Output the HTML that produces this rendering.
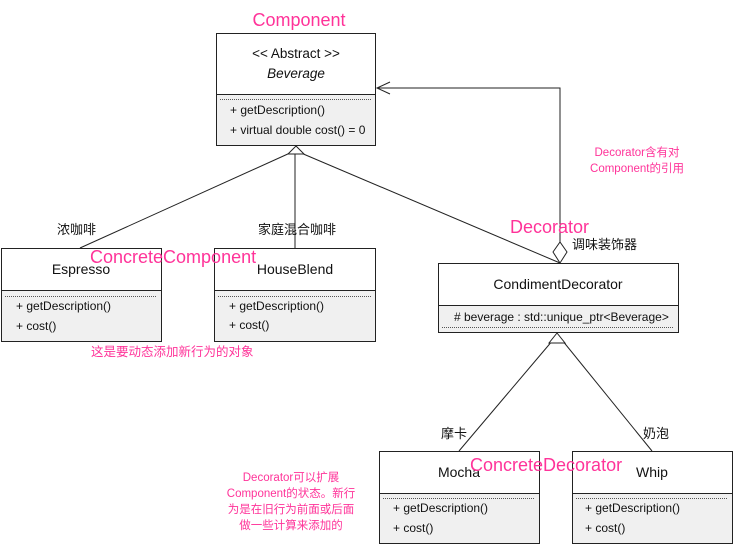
<!DOCTYPE html>
<html><head><meta charset="utf-8"><style>
body{margin:0;background:#fff;width:733px;height:545px;overflow:hidden}
svg text{font-family:"Liberation Sans","Noto Sans CJK SC",sans-serif}
</style></head><body>
<svg width="733" height="545" viewBox="0 0 733 545" xmlns="http://www.w3.org/2000/svg">
<g stroke="#222" fill="none" stroke-width="1">
<rect x="216.5" y="33.5" width="159" height="112" fill="#fff"/>
<rect x="216.5" y="94.5" width="159" height="51" fill="#f0f0f0"/>
<line x1="220" y1="99.5" x2="371" y2="99.5" stroke-dasharray="1,1" stroke="#555"/>
<rect x="1.5" y="248.5" width="160" height="93" fill="#fff"/>
<rect x="1.5" y="290.5" width="160" height="51" fill="#f0f0f0"/>
<line x1="5" y1="296.5" x2="157" y2="296.5" stroke-dasharray="1,1" stroke="#555"/>
<rect x="214.5" y="248.5" width="161" height="93" fill="#fff"/>
<rect x="214.5" y="290.5" width="161" height="51" fill="#f0f0f0"/>
<line x1="218" y1="296.5" x2="371" y2="296.5" stroke-dasharray="1,1" stroke="#555"/>
<rect x="438.5" y="263.5" width="240" height="69" fill="#fff"/>
<rect x="438.5" y="305.5" width="240" height="27" fill="#f0f0f0"/>
<line x1="442" y1="327.5" x2="674" y2="327.5" stroke-dasharray="1,1" stroke="#555"/>
<rect x="379.5" y="451.5" width="160" height="92" fill="#fff"/>
<rect x="379.5" y="493.5" width="160" height="50" fill="#f0f0f0"/>
<line x1="383" y1="498.5" x2="535" y2="498.5" stroke-dasharray="1,1" stroke="#555"/>
<rect x="572.5" y="451.5" width="160" height="92" fill="#fff"/>
<rect x="572.5" y="493.5" width="160" height="50" fill="#f0f0f0"/>
<line x1="576" y1="498.5" x2="728" y2="498.5" stroke-dasharray="1,1" stroke="#555"/>
<line x1="80" y1="248" x2="290" y2="153"/>
<line x1="295" y1="248" x2="295" y2="154"/>
<line x1="560" y1="263" x2="301" y2="153"/>
<polygon points="296,146 288,154 304,154" fill="#fff"/>
<polyline points="560,242 560,88 377,88"/>
<polyline points="390,82 377,88 390,94"/>
<polygon points="560,263 553,252 560,242 567,252" fill="#fff"/>
<line x1="459" y1="451" x2="553" y2="340"/>
<line x1="652" y1="451" x2="562" y2="340"/>
<polygon points="557,333 549,343 565,343" fill="#fff"/>
</g>
<g font-size="13" fill="#111">
<text x="296" y="58" text-anchor="middle" font-size="13.5">&lt;&lt; Abstract &gt;&gt;</text>
<text x="296" y="78" text-anchor="middle" font-style="italic" font-size="13.5">Beverage</text>
<text x="230" y="114" font-size="12">+ getDescription()</text>
<text x="230" y="134" font-size="12">+ virtual double cost() = 0</text>
<text x="81" y="274" text-anchor="middle" font-size="14">Espresso</text>
<text x="16" y="310" font-size="12">+ getDescription()</text>
<text x="16" y="330" font-size="12">+ cost()</text>
<text x="295" y="274" text-anchor="middle" font-size="14">HouseBlend</text>
<text x="229" y="310" font-size="12">+ getDescription()</text>
<text x="229" y="329" font-size="12">+ cost()</text>
<text x="558" y="289" text-anchor="middle" font-size="14">CondimentDecorator</text>
<text x="454" y="321" font-size="12"># beverage : std::unique_ptr&lt;Beverage&gt;</text>
<text x="459" y="477" text-anchor="middle" font-size="14">Mocha</text>
<text x="393" y="512" font-size="12">+ getDescription()</text>
<text x="393" y="532" font-size="12">+ cost()</text>
<text x="652" y="477" text-anchor="middle" font-size="14">Whip</text>
<text x="585" y="512" font-size="12">+ getDescription()</text>
<text x="585" y="532" font-size="12">+ cost()</text>
<text x="57" y="234">浓咖啡</text>
<text x="258" y="234">家庭混合咖啡</text>
<text x="572" y="249">调味装饰器</text>
<text x="441" y="438">摩卡</text>
<text x="643" y="438">奶泡</text>
</g>
<g fill="#ff3399">
<text x="299" y="26" font-size="18" text-anchor="middle">Component</text>
<text x="90" y="263" font-size="18">ConcreteComponent</text>
<text x="510" y="233" font-size="18">Decorator</text>
<text x="470" y="471" font-size="18">ConcreteDecorator</text>
<text x="91" y="356" font-size="12.5">这是要动态添加新行为的对象</text>
<text x="637" y="156" font-size="11.5" text-anchor="middle">Decorator含有对</text>
<text x="637" y="172" font-size="11.5" text-anchor="middle">Component的引用</text>
<text x="291" y="481" font-size="11.5" text-anchor="middle">Decorator可以扩展</text>
<text x="291" y="497" font-size="11.5" text-anchor="middle">Component的状态。新行</text>
<text x="291" y="513" font-size="11.5" text-anchor="middle">为是在旧行为前面或后面</text>
<text x="291" y="529" font-size="11.5" text-anchor="middle">做一些计算来添加的</text>
</g>
</svg>
</body></html>
